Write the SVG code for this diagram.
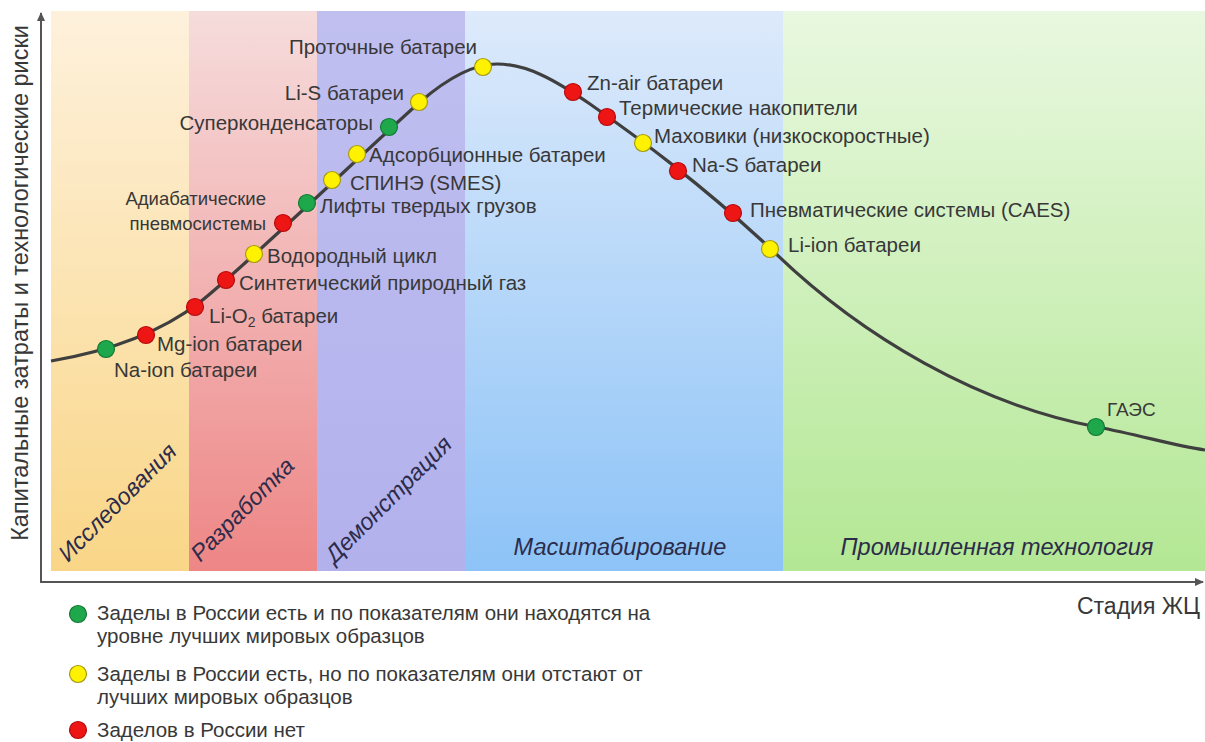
<svg xmlns="http://www.w3.org/2000/svg" width="1205" height="742" viewBox="0 0 1205 742">
<style>
.lbl{font-family:"Liberation Sans",Arial,sans-serif;font-size:20.5px;fill:#383838}
.sm{font-size:18.5px}
.band{font-family:"Liberation Sans",Arial,sans-serif;font-size:23.5px;font-style:italic;fill:#2c2c4a}
.leg{font-family:"Liberation Sans",Arial,sans-serif;font-size:20.5px;fill:#383838}
.g{fill:#1EA84B;stroke:#137A36;stroke-width:1.2}
.y{fill:#FFF200;stroke:#A59A10;stroke-width:1.2}
.r{fill:#EE1515;stroke:#B50C0C;stroke-width:1.2}
.axis{stroke:#555;stroke-width:2;fill:none}
</style>
<defs>
<linearGradient id="b1" x1="0" y1="0" x2="0" y2="1"><stop offset="0" stop-color="#FEF1DC"/><stop offset="1" stop-color="#F9D687"/></linearGradient>
<linearGradient id="b2" x1="0" y1="0" x2="0" y2="1"><stop offset="0" stop-color="#F6DCDC"/><stop offset="1" stop-color="#EE8686"/></linearGradient>
<linearGradient id="b3" x1="0" y1="0" x2="0" y2="1"><stop offset="0" stop-color="#C0BFF0"/><stop offset="1" stop-color="#B2B1EC"/></linearGradient>
<linearGradient id="b4" x1="0" y1="0" x2="0" y2="1"><stop offset="0" stop-color="#DDEAFB"/><stop offset="1" stop-color="#8DC3F7"/></linearGradient>
<linearGradient id="b5" x1="0" y1="0" x2="0" y2="1"><stop offset="0" stop-color="#E9F8E0"/><stop offset="1" stop-color="#B3E794"/></linearGradient>
<marker id="arr" markerWidth="10" markerHeight="10" refX="8" refY="5" orient="auto" markerUnits="userSpaceOnUse"><path d="M0,1 L9,5 L0,9 Z" fill="#555"/></marker>
</defs>
<g id="bands">
<rect x="51" y="11" width="138" height="560" fill="url(#b1)"/>
<rect x="189" y="11" width="128" height="560" fill="url(#b2)"/>
<rect x="317" y="11" width="148" height="560" fill="url(#b3)"/>
<rect x="465" y="11" width="318" height="560" fill="url(#b4)"/>
<rect x="783" y="11" width="422" height="560" fill="url(#b5)"/>
<text class="band" transform="translate(123,508) rotate(-45)" text-anchor="middle">Исследования</text>
<text class="band" transform="translate(248,515) rotate(-45)" text-anchor="middle">Разработка</text>
<text class="band" transform="translate(394,505) rotate(-45)" text-anchor="middle">Демонстрация</text>
<text class="band" x="620" y="555" text-anchor="middle">Масштабирование</text>
<text class="band" x="997" y="555" text-anchor="middle">Промышленная технология</text>
</g>
<g id="axes">
<line class="axis" x1="41" y1="583" x2="41" y2="13" marker-end="url(#arr)"/>
<line class="axis" x1="41" y1="582" x2="1203" y2="582" marker-end="url(#arr)"/>
<text class="lbl" style="font-size:23.5px" transform="translate(28,283) rotate(-90)" text-anchor="middle">Капитальные затраты и технологические риски</text>
<text class="lbl" style="font-size:23px" x="1200" y="614" text-anchor="end">Стадия ЖЦ</text>
</g>
<g id="connectors">
<path d="M51,361 C110,351 160,333 200,302 C240,271 380,137 420,102 C450,76 475,64 497,64 C527,64 555,80 590,104 C640,139 700,183 771,249 C862,338 980,405 1097,427 C1140,435 1175,446 1205,450" fill="none" stroke="#3f3f3f" stroke-width="3.2"/>
</g>
<g id="n-naion"><circle class="g" cx="106" cy="349" r="8.5"/><text class="lbl" x="114" y="377">Na-ion батареи</text></g>
<g id="n-mgion"><circle class="r" cx="146" cy="335" r="8.5"/><text class="lbl" x="157" y="351">Mg-ion батареи</text></g>
<g id="n-lio2"><circle class="r" cx="195" cy="307" r="8.5"/><text class="lbl" x="209" y="323">Li-O<tspan font-size="14" dy="4">2</tspan><tspan dy="-4"> батареи</tspan></text></g>
<g id="n-sng"><circle class="r" cx="226" cy="280" r="8.5"/><text class="lbl" x="239" y="290">Синтетический природный газ</text></g>
<g id="n-h2"><circle class="y" cx="254" cy="254" r="8.5"/><text class="lbl" x="267" y="263">Водородный цикл</text></g>
<g id="n-acaes"><circle class="r" cx="283" cy="223" r="8.5"/><text class="lbl sm" x="266" y="205" text-anchor="end">Адиабатические</text><text class="lbl sm" x="266" y="230" text-anchor="end">пневмосистемы</text></g>
<g id="n-lift"><circle class="g" cx="307" cy="203" r="8.5"/><text class="lbl" x="320" y="213">Лифты твердых грузов</text></g>
<g id="n-smes"><circle class="y" cx="332" cy="180" r="8.5"/><text class="lbl" x="350" y="190">СПИНЭ (SMES)</text></g>
<g id="n-ads"><circle class="y" cx="357" cy="154" r="8.5"/><text class="lbl" x="369" y="162">Адсорбционные батареи</text></g>
<g id="n-sc"><circle class="g" cx="389" cy="127" r="8.5"/><text class="lbl" x="373" y="130" text-anchor="end">Суперконденсаторы</text></g>
<g id="n-lis"><circle class="y" cx="419" cy="102" r="8.5"/><text class="lbl" x="404" y="100" text-anchor="end">Li-S батареи</text></g>
<g id="n-flow"><circle class="y" cx="483" cy="67" r="8.5"/><text class="lbl" x="477" y="54" text-anchor="end">Проточные батареи</text></g>
<g id="n-znair"><circle class="r" cx="573" cy="92" r="8.5"/><text class="lbl" x="587" y="90">Zn-air батареи</text></g>
<g id="n-thermal"><circle class="r" cx="607" cy="117" r="8.5"/><text class="lbl" x="619" y="115">Термические накопители</text></g>
<g id="n-fly"><circle class="y" cx="643" cy="143" r="8.5"/><text class="lbl" x="654" y="143">Маховики (низкоскоростные)</text></g>
<g id="n-nas"><circle class="r" cx="678" cy="171" r="8.5"/><text class="lbl" x="692" y="172">Na-S батареи</text></g>
<g id="n-caes"><circle class="r" cx="733" cy="213" r="8.5"/><text class="lbl" x="750" y="217">Пневматические системы (CAES)</text></g>
<g id="n-liion"><circle class="y" cx="770" cy="249" r="8.5"/><text class="lbl" x="788" y="252">Li-ion батареи</text></g>
<g id="n-gaes"><circle class="g" cx="1096" cy="427" r="8.5"/><text class="lbl" style="font-size:19px" x="1107" y="416">ГАЭС</text></g>
<g id="legend">
<circle class="g" cx="78" cy="614" r="8.5"/>
<text class="leg" x="97" y="620">Заделы в России есть и по показателям они находятся на</text>
<text class="leg" x="97" y="643">уровне лучших мировых образцов</text>
<circle class="y" cx="78" cy="674" r="8.5"/>
<text class="leg" x="97" y="681">Заделы в России есть, но по показателям они отстают от</text>
<text class="leg" x="97" y="704">лучших мировых образцов</text>
<circle class="r" cx="78" cy="730" r="8.5"/>
<text class="leg" x="97" y="737">Заделов в России нет</text>
</g>
</svg>
